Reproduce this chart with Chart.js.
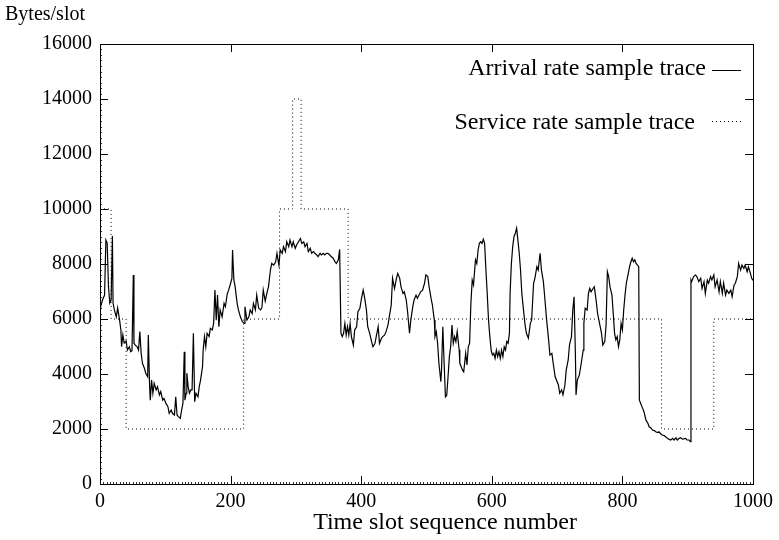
<!DOCTYPE html>
<html>
<head>
<meta charset="utf-8">
<script src="https://cdn.jsdelivr.net/npm/chart.js@4/dist/chart.umd.min.js"></script>
<style>
    html, body { margin: 0; padding: 0; background: #fff; }
    #wrap { width: 779px; height: 540px; }
</style>
</head>
<body>
<div id="wrap"><canvas id="traceChart" width="779" height="540"></canvas></div>
<script>
// Arrival rate sample trace (slot, bytes/slot)
const arrivalSlots = [
    0, 1, 4, 7, 9, 11, 13, 15, 17, 19, 20, 22, 25, 27, 30, 32, 33, 35, 37, 40,
    42, 45, 47, 49, 51, 52, 54, 57, 59, 61, 63, 65, 68, 70, 73, 74, 76, 77, 79, 81,
    83, 86, 88, 91, 93, 96, 98, 101, 104, 106, 109, 111, 114, 116, 118, 120, 123, 125, 127, 129,
    130, 132, 133, 135, 137, 139, 141, 143, 145, 147, 150, 152, 154, 157, 158, 160, 162, 164, 167, 169,
    172, 174, 176, 178, 180, 182, 184, 187, 190, 192, 195, 197, 200, 202, 203, 205, 207, 210, 212, 215,
    218, 221, 222, 225, 228, 230, 233, 235, 238, 240, 243, 246, 248, 250, 253, 256, 258, 261, 263, 266,
    269, 271, 274, 276, 279, 281, 284, 286, 289, 291, 294, 296, 299, 301, 304, 307, 309, 312, 314, 317,
    319, 322, 324, 327, 329, 332, 334, 337, 339, 342, 344, 347, 349, 352, 354, 357, 360, 362, 365, 367,
    369, 371, 373, 375, 377, 379, 381, 383, 385, 388, 390, 393, 395, 398, 400, 403, 405, 408, 410, 413,
    416, 418, 421, 423, 426, 428, 431, 433, 436, 438, 441, 443, 446, 448, 451, 454, 456, 459, 461, 464,
    466, 469, 471, 474, 476, 479, 481, 484, 486, 491, 494, 497, 499, 502, 504, 507, 509, 512, 513, 515,
    517, 519, 522, 523, 525, 527, 529, 531, 533, 535, 537, 539, 541, 543, 545, 547, 550, 551, 553, 555,
    557, 560, 562, 564, 566, 568, 570, 572, 575, 577, 579, 581, 583, 585, 587, 589, 591, 593, 595, 597,
    599, 601, 603, 605, 607, 609, 611, 613, 615, 617, 619, 621, 623, 625, 627, 628, 630, 632, 634, 636,
    638, 640, 642, 644, 646, 648, 651, 653, 656, 659, 661, 664, 666, 669, 671, 674, 676, 679, 681, 684,
    687, 689, 692, 694, 697, 699, 702, 704, 707, 709, 712, 714, 717, 719, 722, 724, 726, 728, 729, 731,
    734, 737, 740, 741, 743, 746, 748, 750, 752, 755, 757, 760, 762, 765, 768, 770, 773, 775, 777, 779,
    781, 784, 786, 788, 790, 792, 794, 796, 798, 800, 802, 804, 806, 809, 811, 813, 815, 817, 819, 821,
    823, 825, 826, 828, 831, 833, 836, 839, 841, 844, 846, 849, 851, 854, 856, 859, 861, 864, 866, 869,
    871, 874, 877, 879, 882, 884, 887, 889, 892, 894, 897, 899, 902, 904, 905, 906, 909, 912, 914, 917,
    920, 922, 925, 927, 930, 932, 935, 937, 940, 942, 945, 948, 950, 953, 955, 958, 960, 963, 966, 968,
    971, 973, 976, 978, 981, 983, 986, 988, 991, 993, 996, 998, 1000
];
const arrivalRates = [
    6400, 6450, 6700, 6870, 8870, 8760, 7170, 6580, 6690, 9020, 6580, 6330, 6080, 6400, 5960, 5600, 4990, 5420, 5130, 5200,
    4870, 4990, 4810, 4850, 7600, 5120, 5050, 4990, 4870, 5540, 4760, 4390, 4210, 4030, 3900, 5420, 3540, 3050, 3780, 3300,
    3660, 3420, 3540, 3240, 3360, 3050, 3110, 2930, 2810, 2570, 2690, 2570, 2510, 3170, 2510, 2450, 2390, 2690, 2930, 4810,
    3050, 3300, 4030, 3540, 3300, 3420, 3420, 5480, 2990, 3300, 3170, 3540, 3780, 4270, 4870, 5360, 4990, 5480, 5360, 5660,
    5600, 5840, 7050, 5960, 6870, 5720, 6330, 6080, 6570, 6450, 6930, 7050, 7300, 7480, 8510, 7420, 7170, 6570, 6330, 6080,
    5900, 5840, 6450, 5960, 6080, 6330, 6200, 6570, 6330, 6870, 6390, 6330, 6420, 7050, 6650, 6990, 7170, 7780, 8020, 7960,
    8080, 8390, 7960, 8510, 8390, 8630, 8450, 8810, 8630, 8870, 8630, 8810, 8570, 8690, 8810, 8930, 8750, 8810, 8630, 8750,
    8450, 8570, 8390, 8450, 8390, 8330, 8270, 8390, 8330, 8390, 8330, 8390, 8390, 8330, 8270, 8210, 8080, 8020, 8150, 8530,
    5480, 5360, 5480, 5840, 5420, 5720, 5420, 5840, 5360, 5050, 5600, 5720, 6270, 6390, 6690, 7050, 6810, 6330, 5720, 5480,
    5170, 4990, 5110, 5360, 5720, 5110, 5300, 5360, 5420, 5540, 5780, 6080, 6510, 7480, 7110, 7480, 7660, 7480, 7170, 6930,
    6990, 6690, 6270, 5480, 5960, 6450, 6690, 6870, 6750, 6990, 7050, 7300, 7600, 7540, 7170, 6750, 6510, 5960, 5360, 5540,
    5120, 4390, 3720, 4150, 5720, 4390, 3170, 3230, 3900, 4630, 4990, 5780, 5120, 5360, 5180, 5540, 4880, 4390, 4270, 4150,
    4080, 4750, 4330, 4990, 5120, 6570, 7420, 7240, 8150, 8020, 8510, 8750, 8810, 8750, 8900, 8750, 7780, 6930, 5960, 5360,
    4870, 4690, 4750, 4570, 4870, 4630, 4810, 4570, 4870, 4630, 4990, 4870, 5180, 5120, 5480, 6930, 8020, 8630, 9000, 9110,
    9300, 8870, 8390, 7780, 6930, 6450, 5780, 5480, 5300, 5840, 5960, 7300, 7480, 7900, 7780, 8390, 7780, 7360, 6810, 5960,
    5240, 4690, 4750, 4390, 3900, 3780, 3600, 3300, 3420, 3240, 3600, 4150, 4510, 5060, 5360, 6330, 6810, 4750, 3240, 3780,
    3960, 4390, 4870, 5840, 6390, 6330, 6930, 7110, 6990, 7110, 7170, 6630, 6200, 5840, 5480, 5050, 5180, 5780, 7720, 7540,
    7170, 6870, 6200, 5480, 5240, 5360, 4990, 5240, 5840, 5600, 6330, 6870, 7300, 7660, 7900, 8080, 8210, 8080, 8150, 8020,
    7960, 7900, 3050, 2930, 2750, 2630, 2330, 2210, 2080, 2030, 1960, 1940, 1900, 1870, 1900, 1820, 1780, 1760, 1720, 1660,
    1630, 1600, 1660, 1600, 1680, 1600, 1660, 1680, 1630, 1640, 1660, 1600, 1600, 1540, 7420, 7360, 7540, 7600, 7540, 7360,
    7480, 7110, 7360, 6930, 7420, 7300, 7540, 7420, 7600, 7170, 7420, 6990, 7360, 6930, 7300, 6870, 7050, 6930, 7050, 6810,
    7240, 7300, 7540, 8020, 7780, 7960, 7840, 7960, 7720, 7900, 7660, 7480, 7400
];

// Service rate sample trace (value holds until the next slot listed)
const serviceSlots = [0, 17, 40, 220, 275, 295, 308, 380, 860, 940, 1000];
const serviceRates = [10000, 6000, 2000, 6000, 10000, 14000, 10000, 6000, 2000, 6000, 6000];

const xTicks = [0, 200, 400, 600, 800, 1000];
const yTicks = [0, 2000, 4000, 6000, 8000, 10000, 12000, 14000, 16000];
const xMinorStep = 5;
const yMinorStep = 200;

const seriesNames = ['Arrival rate sample trace', 'Service rate sample trace'];
const xTitle = 'Time slot sequence number';
const yTitle = 'Bytes/slot';

const FONT = '"Liberation Serif", "Times New Roman", serif';

// frame, inward ticks, titles and the key, gnuplot style
const gnuplotFrame = {
    id: 'gnuplotFrame',
    afterDatasetsDraw(chart) {
        const { ctx, chartArea: a, scales: { x, y } } = chart;
        ctx.save();
        ctx.strokeStyle = '#000';
        ctx.lineWidth = 1;
        ctx.setLineDash([]);
        ctx.strokeRect(a.left + 0.5, a.top + 0.5, a.right - a.left, a.bottom - a.top);

        const tick = 8;
        ctx.beginPath();
        xTicks.forEach(v => {
            const px = Math.round(x.getPixelForValue(v)) + 0.5;
            ctx.moveTo(px, a.bottom); ctx.lineTo(px, a.bottom - tick);
            ctx.moveTo(px, a.top); ctx.lineTo(px, a.top + tick);
        });
        yTicks.forEach(v => {
            const py = Math.round(y.getPixelForValue(v)) + 0.5;
            ctx.moveTo(a.left, py); ctx.lineTo(a.left + tick, py);
            ctx.moveTo(a.right, py); ctx.lineTo(a.right - tick, py);
        });
        ctx.stroke();

        // small marks along the left and bottom axes
        ctx.lineWidth = 0.8;
        ctx.beginPath();
        for (let v = x.min; v <= x.max; v += xMinorStep) {
            const px = Math.round(x.getPixelForValue(v)) + 0.5;
            ctx.moveTo(px, a.bottom); ctx.lineTo(px, a.bottom - 2);
        }
        for (let v = y.min; v <= y.max; v += yMinorStep) {
            const py = Math.round(y.getPixelForValue(v)) + 0.5;
            ctx.moveTo(a.left, py); ctx.lineTo(a.left + 2, py);
        }
        ctx.stroke();
        ctx.lineWidth = 1;

        ctx.fillStyle = '#000';
        ctx.textBaseline = 'middle';
        ctx.font = `20px ${FONT}`;
        ctx.textAlign = 'left';
        ctx.fillText(yTitle, 5, 15);
        ctx.font = `24px ${FONT}`;
        ctx.textAlign = 'center';
        ctx.fillText(xTitle, 445, 523);

        // key
        ctx.textAlign = 'right';
        ctx.fillText(seriesNames[0], 706, 69);
        ctx.fillText(seriesNames[1], 695, 123);
        ctx.beginPath();
        ctx.moveTo(712, 70.5); ctx.lineTo(741, 70.5);
        ctx.stroke();
        ctx.setLineDash([1, 3]);
        ctx.beginPath();
        ctx.moveTo(712, 121.5); ctx.lineTo(741, 121.5);
        ctx.stroke();
        ctx.restore();
    }
};

const ctx = document.getElementById('traceChart').getContext('2d');
new Chart(ctx, {
    type: 'line',
    data: {
        datasets: [
            {
                label: seriesNames[0],
                data: arrivalSlots.map((s, i) => ({ x: s, y: arrivalRates[i] })),
                borderColor: '#000',
                borderWidth: 1.2,
                pointRadius: 0,
                tension: 0
            },
            {
                label: seriesNames[1],
                data: serviceSlots.map((s, i) => ({ x: s, y: serviceRates[i] })),
                borderColor: '#000',
                borderWidth: 1,
                borderDash: [1, 3],
                pointRadius: 0,
                stepped: 'before'
            }
        ]
    },
    options: {
        responsive: false,
        animation: false,
        devicePixelRatio: 1,
        layout: { padding: { left: 0, top: 44, right: 21, bottom: 0 } },
        plugins: {
            legend: { display: false },
            tooltip: { enabled: false }
        },
        scales: {
            x: {
                type: 'linear',
                min: xTicks[0],
                max: xTicks[xTicks.length - 1],
                afterBuildTicks: s => { s.ticks = xTicks.map(v => ({ value: v })); },
                afterFit: s => { s.height = 56; },
                grid: { display: false, drawTicks: false },
                border: { display: false },
                ticks: {
                    color: '#000',
                    padding: 6,
                    maxRotation: 0,
                    font: { family: FONT, size: 20 },
                    callback: v => String(v)
                }
            },
            y: {
                min: yTicks[0],
                max: yTicks[yTicks.length - 1],
                afterBuildTicks: s => { s.ticks = yTicks.map(v => ({ value: v })); },
                afterFit: s => { s.width = 100; },
                grid: { display: false, drawTicks: false },
                border: { display: false },
                ticks: {
                    color: '#000',
                    padding: 8,
                    font: { family: FONT, size: 20 },
                    callback: v => String(v)
                }
            }
        }
    },
    plugins: [gnuplotFrame]
});
</script>
</body>
</html>
